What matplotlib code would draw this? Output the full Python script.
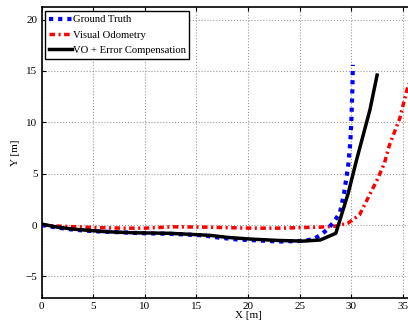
import numpy as np
import matplotlib
matplotlib.use('Agg')
import matplotlib.pyplot as plt

plt.rcParams['font.family'] = ['Liberation Serif', 'DejaVu Serif']

# data
gt_x = [0, 1.5, 3.1, 5, 6.3, 8, 10, 12.4, 15.6, 17, 18.9, 21, 23.1, 25, 26.3, 27.1, 27.6, 28.3, 28.9, 29.3, 29.7, 29.9, 30.0, 30.1, 30.15]
gt_y = [0, -0.25, -0.45, -0.6, -0.65, -0.72, -0.8, -0.85, -1.0, -1.2, -1.4, -1.5, -1.6, -1.55, -1.4, -0.9, -0.5, 0.3, 1.2, 3.1, 5.8, 8, 10, 13, 15.6]

vo_x = [0, 1.5, 3.5, 5.5, 7.9, 10, 12.7, 15.7, 18, 20.5, 23, 25, 27, 28.5, 29.7, 30.8, 31.6, 32.5, 33.2, 33.7, 34.7, 35.4, 36]
vo_y = [0, -0.1, -0.17, -0.25, -0.3, -0.3, -0.17, -0.2, -0.25, -0.3, -0.3, -0.25, -0.2, -0.1, 0.2, 1.0, 2.6, 4.4, 6.0, 7.8, 10.4, 13.2, 15.0]

ec_x = [0, 1.5, 3.1, 5, 6.3, 9, 12.4, 16.3, 18, 20.2, 23, 25.3, 27.0, 28.5, 29.7, 30.5, 31.8, 32.5]
ec_y = [0.1, -0.2, -0.4, -0.55, -0.65, -0.75, -0.8, -1.0, -1.2, -1.36, -1.5, -1.56, -1.45, -0.8, 3.1, 6.3, 11.2, 14.6]

fig = plt.figure(figsize=(4.08, 3.22), dpi=100)
# axes runs past the right edge like the cropped original
ax = fig.add_axes([0.1022, 0.0745, 40 * 10.32 / 408, 0.9028])

ax.plot(gt_x, gt_y, color='blue', linestyle=(0, (1, 1.2)), linewidth=3, label='Ground Truth', zorder=3)
ax.plot(vo_x, vo_y, color='red', linestyle=(0, (1.6, 1.0, 0.6, 1.0)), linewidth=2.5, label='Visual Odometry', zorder=2)
ax.plot(ec_x, ec_y, color='black', linestyle='-', linewidth=2.5, label='VO + Error Compensation', zorder=4)

ax.set_xlim(0, 40)
ax.set_ylim(-7.1, 21.2)
ax.set_xticks(np.arange(0, 36, 5))
ax.set_yticks([-5, 0, 5, 10, 15, 20])
ax.set_yticklabels(['\u22125', '0', '5', '10', '15', '20'])
ax.grid(True, linestyle=':', color='#999999', linewidth=0.8)
ax.tick_params(direction='in', top=True, right=True, labelsize=8, length=3, pad=3)
for sp in ax.spines.values():
    sp.set_linewidth(1.2)

ax.set_xlabel('X [m]', fontsize=8, labelpad=0)
ax.set_ylabel('Y [m]', fontsize=8, labelpad=4)

leg = ax.legend(loc='upper left', fontsize=7.7, handlelength=2.1, handletextpad=0.1,
                borderpad=0.35, labelspacing=0.55, fancybox=False, framealpha=1,
                borderaxespad=0.35)
leg.get_frame().set_edgecolor('black')
leg.get_frame().set_linewidth(1.0)

fig.savefig('out.png', dpi=100)
